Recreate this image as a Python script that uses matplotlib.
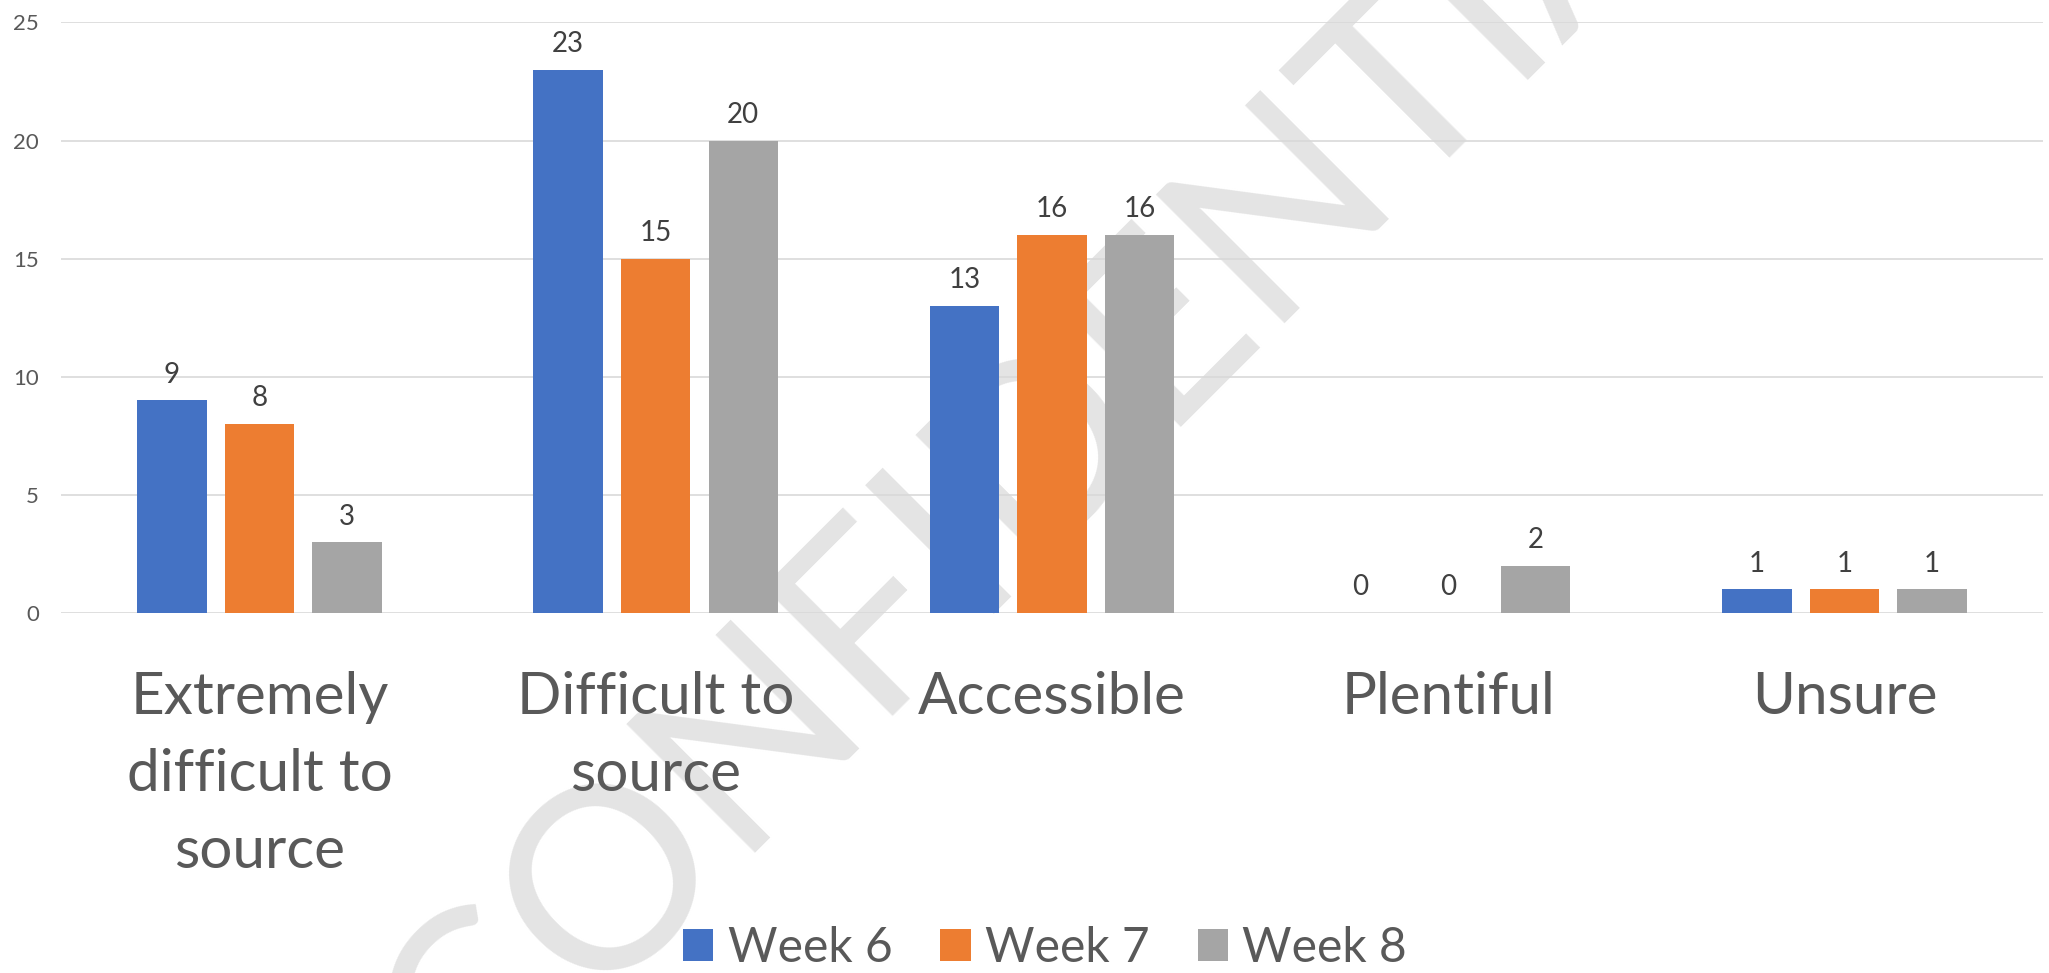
import numpy as np
import matplotlib.pyplot as plt
from matplotlib.patches import Patch

plt.rcParams['font.family'] = ['Lato', 'DejaVu Sans']

categories = ['Extremely\ndifficult to\nsource', 'Difficult to\nsource', 'Accessible', 'Plentiful', 'Unsure']
series = ['Week 6', 'Week 7', 'Week 8']
week6 = [9, 23, 13, 0, 1]
week7 = [8, 15, 16, 0, 1]
week8 = [3, 20, 16, 2, 1]
colors = ['#4472C4', '#ED7D31', '#A5A5A5']
yticks = [0, 5, 10, 15, 20, 25]

fig = plt.figure(figsize=(20.49, 9.73), dpi=100)
ax = fig.add_axes([0.0299, 0.370, 0.9670, 0.607])
ax.patch.set_alpha(0)

# watermark, drawn behind the axes
fig.text(0.2304, -0.1552, 'CONFIDENTIAL', fontsize=183, color='#e4e4e4',
         rotation=45, ha='left', va='baseline', rotation_mode='anchor', zorder=-1)

x = np.arange(len(categories))
width = 0.175
step = 0.221
for i, (vals, name) in enumerate(zip([week6, week7, week8], series)):
    bars = ax.bar(x + (i - 1) * step, vals, width, color=colors[i], label=name, zorder=3)
    ax.bar_label(bars, padding=9, fontsize=20, color='#404040')

ax.set_xlim(-0.5, len(categories) - 0.5)
ax.set_ylim(0, 25)
ax.set_yticks(yticks)
ax.yaxis.grid(True, color='#d9d9d9', linewidth=1.2, zorder=1)
ax.set_axisbelow(True)
for s in ax.spines.values():
    s.set_visible(False)
ax.tick_params(axis='y', length=0, pad=16, labelsize=16, labelcolor='#595959')
ax.set_xticks(x)
ax.set_xticklabels(categories, linespacing=1.55)
ax.tick_params(axis='x', length=0, pad=42, labelsize=42, labelcolor='#595959')

handles = [Patch(facecolor=c, label=n) for c, n in zip(colors, series)]
fig.legend(handles=handles, loc='center', bbox_to_anchor=(0.510, 0.026), ncol=3,
           frameon=False, fontsize=34.5, labelcolor='#595959',
           handlelength=0.63, handleheight=0.65, handletextpad=0.3, columnspacing=1.0)

fig.savefig('out.png', dpi=100)
